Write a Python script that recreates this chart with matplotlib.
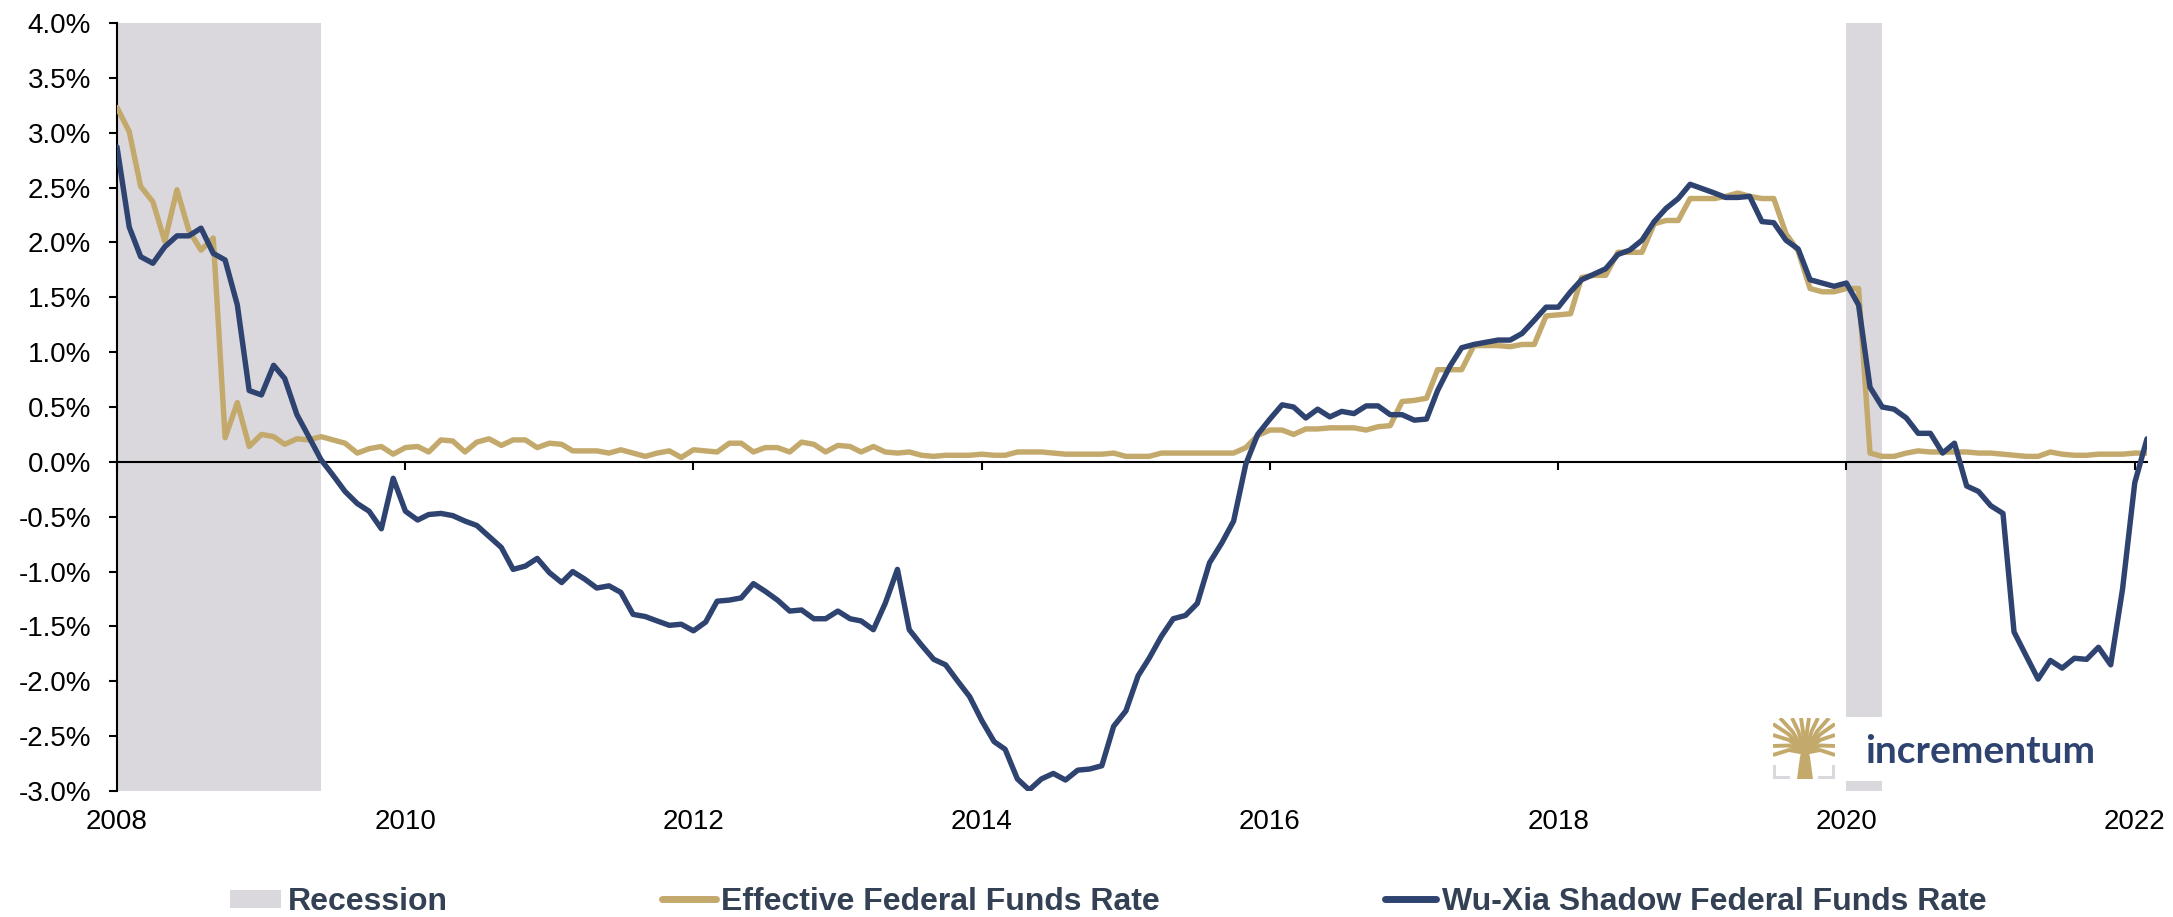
import pandas as pd
import matplotlib
matplotlib.use('Agg')
import matplotlib.pyplot as plt
import matplotlib.dates as mdates
from matplotlib.ticker import FuncFormatter, MultipleLocator
from matplotlib.patches import Rectangle, Polygon
from matplotlib.lines import Line2D

plt.rcParams['font.family'] = ['Liberation Sans', 'DejaVu Sans']

# monthly data, Jan 2008 .. Feb 2022 (values in %)
months = pd.date_range('2008-01-01', '2022-02-01', freq='MS')

effr = [
    3.23, 3.01, 2.51, 2.37, 2.01, 2.48, 2.11, 1.93, 2.04, 0.22, 0.54, 0.14,  # 2008
    0.25, 0.23, 0.16, 0.21, 0.20, 0.23, 0.20, 0.17, 0.08, 0.12, 0.14, 0.07,  # 2009
    0.13, 0.14, 0.09, 0.20, 0.19, 0.09, 0.18, 0.21, 0.15, 0.20, 0.20, 0.13,  # 2010
    0.17, 0.16, 0.10, 0.10, 0.10, 0.08, 0.11, 0.08, 0.05, 0.08, 0.10, 0.04,  # 2011
    0.11, 0.10, 0.09, 0.17, 0.17, 0.09, 0.13, 0.13, 0.09, 0.18, 0.16, 0.09,  # 2012
    0.15, 0.14, 0.09, 0.14, 0.09, 0.08, 0.09, 0.06, 0.05, 0.06, 0.06, 0.06,  # 2013
    0.07, 0.06, 0.06, 0.09, 0.09, 0.09, 0.08, 0.07, 0.07, 0.07, 0.07, 0.08,  # 2014
    0.05, 0.05, 0.05, 0.08, 0.08, 0.08, 0.08, 0.08, 0.08, 0.08, 0.13, 0.24,  # 2015
    0.29, 0.29, 0.25, 0.30, 0.30, 0.31, 0.31, 0.31, 0.29, 0.32, 0.33, 0.55,  # 2016
    0.56, 0.58, 0.84, 0.84, 0.84, 1.06, 1.06, 1.06, 1.05, 1.07, 1.07, 1.33,  # 2017
    1.34, 1.35, 1.68, 1.70, 1.70, 1.91, 1.91, 1.91, 2.17, 2.20, 2.20, 2.40,  # 2018
    2.40, 2.40, 2.42, 2.45, 2.42, 2.40, 2.40, 2.08, 1.92, 1.58, 1.55, 1.55,  # 2019
    1.58, 1.58, 0.08, 0.05, 0.05, 0.08, 0.10, 0.09, 0.09, 0.09, 0.09, 0.08,  # 2020
    0.08, 0.07, 0.06, 0.05, 0.05, 0.09, 0.07, 0.06, 0.06, 0.07, 0.07, 0.07,  # 2021
    0.08, 0.08,                                                              # 2022
]

shadow = [
    2.87, 2.14, 1.87, 1.81, 1.96, 2.06, 2.06, 2.13, 1.90, 1.84, 1.43, 0.65,  # 2008
    0.61, 0.88, 0.76, 0.43, 0.23, 0.02, -0.12, -0.27, -0.38, -0.45, -0.61, -0.15,
    -0.45, -0.53, -0.48, -0.47, -0.49, -0.54, -0.58, -0.68, -0.78, -0.98, -0.95, -0.88,
    -1.01, -1.10, -1.00, -1.07, -1.15, -1.13, -1.19, -1.39, -1.41, -1.45, -1.49, -1.48,
    -1.54, -1.46, -1.27, -1.26, -1.24, -1.11, -1.18, -1.26, -1.36, -1.35, -1.43, -1.43,
    -1.36, -1.43, -1.45, -1.53, -1.29, -0.98, -1.53, -1.67, -1.80, -1.85, -2.00, -2.14,
    -2.36, -2.55, -2.62, -2.89, -2.99, -2.89, -2.84, -2.90, -2.81, -2.80, -2.77, -2.41,
    -2.27, -1.95, -1.79, -1.59, -1.43, -1.40, -1.29, -0.92, -0.74, -0.54, -0.02, 0.25,
    0.39, 0.52, 0.50, 0.40, 0.48, 0.41, 0.46, 0.44, 0.51, 0.51, 0.43, 0.43,  # 2016
    0.38, 0.39, 0.65, 0.87, 1.04, 1.07, 1.09, 1.11, 1.11, 1.17, 1.29, 1.41,  # 2017
    1.41, 1.55, 1.66, 1.71, 1.76, 1.89, 1.93, 2.02, 2.19, 2.31, 2.40, 2.53,  # 2018
    2.49, 2.45, 2.41, 2.41, 2.42, 2.19, 2.18, 2.02, 1.94, 1.66, 1.63, 1.60,  # 2019
    1.63, 1.43, 0.68, 0.50, 0.48, 0.40, 0.26, 0.26, 0.08, 0.17, -0.22, -0.27,
    -0.40, -0.47, -1.55, -1.77, -1.98, -1.81, -1.88, -1.79, -1.80, -1.69, -1.85, -1.16,
    -0.19, 0.21,                                                             # 2022
]

recession_start = ['2008-01-01', '2020-01-01']
recession_end = ['2009-06-01', '2020-04-01']
year_ticks = list(range(2008, 2023, 2))

label_rec = 'Recession'
label_effr = 'Effective Federal Funds Rate'
label_shadow = 'Wu-Xia Shadow Federal Funds Rate'

GOLD = '#C4A96C'
NAVY = '#2E4370'
SHADE = '#DAD8DD'
TEXT = '#344154'

W, H = 2173, 917
fig = plt.figure(figsize=(W / 100, H / 100), dpi=100)
ax = fig.add_axes([117 / W, 1 - 791 / H, (2147 - 117) / W, (791 - 23) / H])

# recession shading
for s, e in zip(recession_start, recession_end):
    ax.axvspan(pd.Timestamp(s), pd.Timestamp(e), color=SHADE, lw=0, zorder=0)

ax.plot(months, effr, color=GOLD, lw=3.9, solid_joinstyle='round',
        solid_capstyle='round', zorder=3)
ax.plot(months, shadow, color=NAVY, lw=3.9, solid_joinstyle='round',
        solid_capstyle='round', zorder=4)

ax.set_xlim(months[0], months[-1])
ax.set_ylim(-3, 4)
ax.yaxis.set_major_locator(MultipleLocator(0.5))
ax.yaxis.set_major_formatter(FuncFormatter(lambda v, p: f'{v + 0.0:.1f}%'))

tick_dates = pd.to_datetime([f'{y}-01-01' for y in year_ticks])
ax.set_xticks(tick_dates)
ax.xaxis.set_major_formatter(mdates.DateFormatter('%Y'))

for side in ['top', 'right', 'bottom']:
    ax.spines[side].set_visible(False)
ax.spines['left'].set_linewidth(1.5)
ax.tick_params(axis='y', direction='out', length=5.8, width=1.5, pad=13,
               labelsize=20, colors='black')
ax.tick_params(axis='x', length=0, pad=13, labelsize=20)

# zero line with the year ticks on it
sec = ax.secondary_xaxis(3 / 7)
sec.set_xticks(ax.get_xticks())
sec.set_xticklabels([])
sec.tick_params(direction='out', length=5.8, width=1.5)
sec.spines['bottom'].set_linewidth(1.5)

# legend, laid out along the bottom
base = 1 - 910 / H
mid = 1 - 899 / H
fig.add_artist(Rectangle((230 / W, mid - 9 / H), 51 / W, 18 / H,
                         transform=fig.transFigure, color=SHADE, lw=0))
fig.text(288 / W, base, label_rec, fontsize=23, fontweight='bold',
         color=TEXT, va='baseline')
fig.add_artist(Line2D([662 / W, 716 / W], [mid] * 2, lw=5, color=GOLD,
                      solid_capstyle='round', transform=fig.transFigure))
fig.text(721 / W, base, label_effr, fontsize=23, fontweight='bold',
         color=TEXT, va='baseline')
fig.add_artist(Line2D([1385 / W, 1436 / W], [mid] * 2, lw=5, color=NAVY,
                      solid_capstyle='round', transform=fig.transFigure))
fig.text(1442 / W, base, label_shadow, fontsize=23, fontweight='bold',
         color=TEXT, va='baseline')

# logo
fig.add_artist(Rectangle((1765 / W, 1 - 781 / H), 345 / W, 64 / H,
                         transform=fig.transFigure, color='white', lw=0, zorder=2))
fig.text(1865 / W, 1 - 763 / H, 'incrementum', fontsize=28, fontweight='bold',
         family='Lato', color=NAVY, va='baseline', zorder=3)

lax = fig.add_axes([1773 / W, 1 - 779 / H, 62 / W, 61 / H], zorder=5)
lax.set_xlim(0, 62)
lax.set_ylim(0, 61)
lax.axis('off')
lax.add_patch(Polygon([(24, 0), (40, 0), (37, 22), (35, 30), (29, 30), (27, 22)],
                      closed=True, color=GOLD, lw=0))
ends = [(0, 24), (0, 33), (0, 44), (0, 55), (7, 61), (19, 61), (28, 61),
        (36, 61), (45, 61), (56, 61), (62, 55), (62, 44), (62, 33), (62, 24)]
for ex, ey in ends:
    lax.plot([32, (32 + ex) / 2, ex], [26, (26 + ey) / 2 + 4, ey], color=GOLD,
             lw=2.8, solid_capstyle='butt', clip_on=True)
grey = '#D9D8DC'
lax.add_patch(Rectangle((0, 0), 17, 3, color=grey, lw=0))
lax.add_patch(Rectangle((0, 0), 3, 14, color=grey, lw=0))
lax.add_patch(Rectangle((45, 0), 17, 3, color=grey, lw=0))
lax.add_patch(Rectangle((59, 0), 3, 14, color=grey, lw=0))

fig.savefig('out.png', dpi=100)
